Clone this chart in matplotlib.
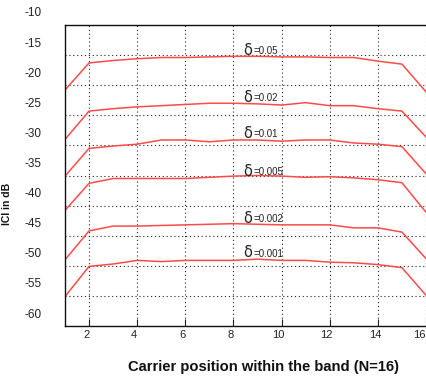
import matplotlib
matplotlib.use("Agg")
import matplotlib.pyplot as plt
from matplotlib.transforms import ScaledTranslation
import numpy as np

plt.rcParams["font.family"] = ["Liberation Sans", "DejaVu Sans"]
plt.rcParams["axes.unicode_minus"] = False

# Carrier index within the band
carriers = list(range(1, 17))

# ICI (dB) per carrier for each normalised frequency offset
deltas = ["0.05", "0.02", "0.01", "0.005", "0.002", "0.001"]
ici_005 = [-20.8, -16.3, -15.9, -15.6, -15.4, -15.4, -15.3, -15.2, -15.2, -15.3,
           -15.3, -15.4, -15.4, -16.0, -16.5, -21.1]
ici_002 = [-29.0, -24.3, -23.9, -23.6, -23.4, -23.2, -23.0, -23.0, -23.1, -23.3,
           -22.9, -23.4, -23.4, -23.9, -24.3, -28.6]
ici_001 = [-35.1, -30.5, -30.1, -29.8, -29.1, -29.1, -29.4, -29.1, -29.1, -29.3,
           -29.1, -29.1, -29.6, -29.8, -30.2, -34.7]
ici_0005 = [-40.8, -36.3, -35.5, -35.5, -35.5, -35.5, -35.3, -35.1, -35.0, -35.1,
            -35.3, -35.2, -35.4, -35.7, -36.2, -41.1]
ici_0002 = [-49.0, -44.2, -43.4, -43.4, -43.3, -43.2, -43.1, -43.0, -43.1, -43.2,
            -43.2, -43.2, -43.7, -43.7, -44.4, -48.8]
ici_0001 = [-55.1, -50.1, -49.7, -49.1, -49.3, -49.1, -49.1, -49.1, -48.9, -49.1,
            -49.1, -49.4, -49.5, -49.8, -50.3, -54.9]
series = [ici_005, ici_002, ici_001, ici_0005, ici_0002, ici_0001]

# Label anchor (carrier position, dB) for each curve annotation
label_x = 8.4
label_y = [-14.2, -22.0, -28.0, -34.3, -42.1, -47.8]

y_ticks = list(range(-60, -5, 5))
x_ticks = list(range(2, 17, 2))

fig = plt.figure(figsize=(4.27, 3.76), dpi=100)
ax = fig.add_axes([65 / 427, 50 / 376, 361 / 427, 301 / 376])

line_color = "#ff4a4a"
for vals in series:
    ax.plot(carriers, vals, color=line_color, lw=1.1, solid_joinstyle="round")

for d, ly in zip(deltas, label_y):
    ax.text(label_x, ly, "\u03b4", fontsize=10.5, color="#222222",
            ha="left", va="center", family=["DejaVu Sans"])
    ax.annotate("=" + d, xy=(label_x, ly), xytext=(10, -1),
                textcoords="offset pixels", fontsize=7, color="#222222",
                ha="left", va="center")

ax.set_xlim(1, 16)
ax.set_ylim(-60, -10)
ax.set_xticks(x_ticks)
ax.set_yticks(y_ticks)

ax.grid(True, color="#222222", linestyle=(0, (1, 2.5)), lw=0.8)
ax.spines["right"].set_visible(False)
for s in ("left", "bottom", "top"):
    ax.spines[s].set_linewidth(1.0)
    ax.spines[s].set_color("#111111")

ax.tick_params(axis="x", direction="in", length=5, width=0.8, pad=3,
               labelsize=8, colors="#222222")
ax.tick_params(axis="y", length=0, pad=17, labelsize=8.5, labelcolor="#222222")

# value labels sit a little above their grid lines
fig.canvas.draw()
shift_y = ScaledTranslation(0, 13 / 100, fig.dpi_scale_trans)
for lab in ax.get_yticklabels():
    lab.set_transform(lab.get_transform() + shift_y)
xlabs = ax.get_xticklabels()
for i, lab in enumerate(xlabs):
    dx = -7 if i == len(xlabs) - 1 else -3
    lab.set_transform(lab.get_transform()
                      + ScaledTranslation(dx / 100, 0, fig.dpi_scale_trans))

ax.set_xlabel("Carrier position within the band (N=16)", fontsize=10.6,
              fontweight="bold", color="#111111")
ax.xaxis.set_label_coords((264 - 65) / 361, (326 - 360) / 301)
ax.set_ylabel("ICI in dB", fontsize=7.5, fontweight="bold", color="#111111")
ax.yaxis.set_label_coords((12 - 65) / 361, (326 - 204) / 301)

fig.savefig("out.png", dpi=100)
